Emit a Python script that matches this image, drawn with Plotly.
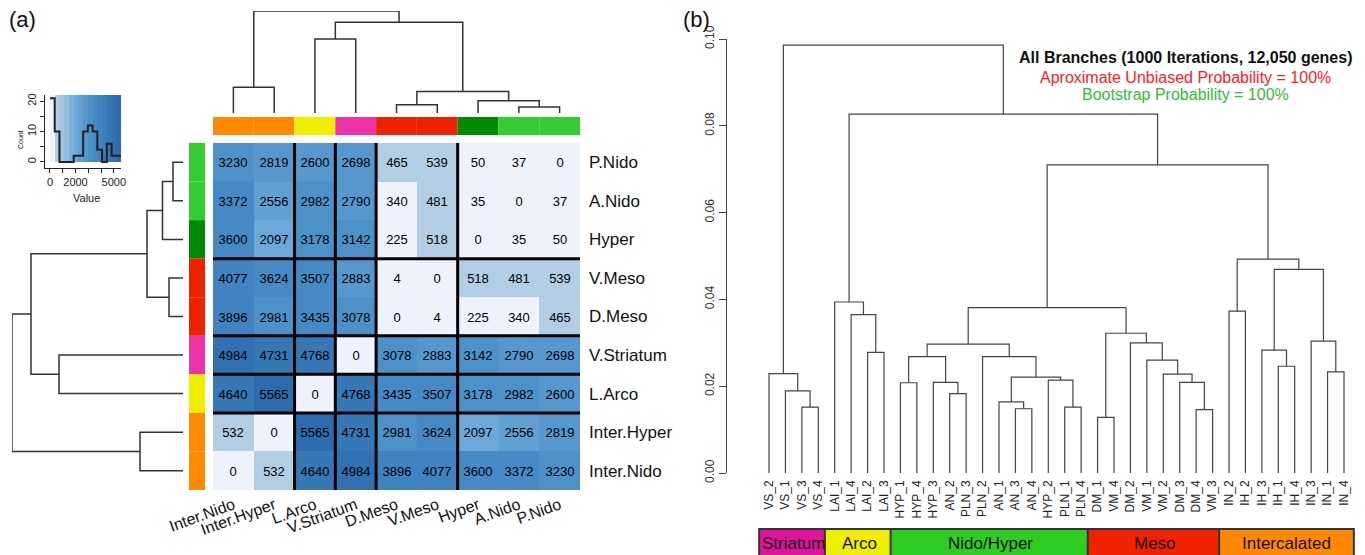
import numpy as np
import plotly.graph_objects as go

W, H = 1365, 555
OFF = 8  # page body margin
def px(x): return (x - OFF) / W
def py(y): return 1 - (y - OFF) / H

# ---------------- Panel (a) data ----------------
col_labels = ["Inter.Nido", "Inter.Hyper", "L.Arco", "V.Striatum", "D.Meso", "V.Meso", "Hyper", "A.Nido", "P.Nido"]
row_labels = ["P.Nido", "A.Nido", "Hyper", "V.Meso", "D.Meso", "V.Striatum", "L.Arco", "Inter.Hyper", "Inter.Nido"]

row_P_Nido      = [3230, 2819, 2600, 2698, 465, 539, 50, 37, 0]
row_A_Nido      = [3372, 2556, 2982, 2790, 340, 481, 35, 0, 37]
row_Hyper       = [3600, 2097, 3178, 3142, 225, 518, 0, 35, 50]
row_V_Meso      = [4077, 3624, 3507, 2883, 4, 0, 518, 481, 539]
row_D_Meso      = [3896, 2981, 3435, 3078, 0, 4, 225, 340, 465]
row_V_Striatum  = [4984, 4731, 4768, 0, 3078, 2883, 3142, 2790, 2698]
row_L_Arco      = [4640, 5565, 0, 4768, 3435, 3507, 3178, 2982, 2600]
row_Inter_Hyper = [532, 0, 5565, 4731, 2981, 3624, 2097, 2556, 2819]
row_Inter_Nido  = [0, 532, 4640, 4984, 3896, 4077, 3600, 3372, 3230]

region_of = {"Inter.Nido": "Inter", "Inter.Hyper": "Inter", "L.Arco": "Arco", "V.Striatum": "Striatum",
             "D.Meso": "Meso", "V.Meso": "Meso", "Hyper": "Nido", "A.Nido": "Nido", "P.Nido": "Nido"}

# hierarchical tree of the 9 regions (merge order, children, heights in arbitrary units)
tree_a_left   = ["A.Nido", "D.Meso", "Hyper", "t1", "Inter.Nido", "L.Arco", "t5", "t4"]
tree_a_right  = ["P.Nido", "V.Meso", "t0", "t2", "Inter.Hyper", "V.Striatum", "t3", "t6"]
tree_a_height = [10, 14, 20.5, 36, 43, 124, 152, 171]

# ---------------- Panel (b) data ----------------
b_leaves = ["VS_2", "VS_1", "VS_3", "VS_4", "LAI_1", "LAI_4", "LAI_2", "LAI_3",
            "HYP_1", "HYP_4", "HYP_3", "AN_2", "PLN_3", "PLN_2", "AN_1", "AN_3", "AN_4", "HYP_2", "PLN_1", "PLN_4",
            "DM_1", "VM_4", "DM_2", "VM_1", "VM_2", "DM_3", "DM_4", "VM_3",
            "IN_2", "IH_2", "IH_3", "IH_1", "IH_4", "IN_3", "IN_1", "IN_4"]
b_left = ["VS_3", "VS_1", "VS_2", "LAI_2", "LAI_4", "LAI_1", "HYP_1", "AN_2", "HYP_3", "m6",
          "AN_3", "AN_1", "PLN_1", "HYP_2", "m11", "PLN_2", "m9",
          "DM_1", "DM_4", "DM_3", "VM_2", "VM_1", "DM_2", "m17", "m16",
          "IN_2", "IH_1", "IH_3", "IN_1", "IN_3", "m27", "m25", "m24", "m5", "m2"]
b_right = ["VS_4", "m0", "m1", "LAI_3", "m3", "m4", "HYP_4", "PLN_3", "m7", "m8",
           "AN_4", "m10", "PLN_4", "m12", "m13", "m14", "m15",
           "VM_4", "VM_3", "m18", "m19", "m20", "m21", "m22", "m23",
           "IH_2", "IH_4", "m26", "IN_4", "m28", "m29", "m30", "m31", "m32", "m33"]
b_height = [0.0152, 0.0189, 0.0229, 0.0278, 0.0365, 0.0394, 0.0208, 0.0183, 0.0209, 0.0268,
            0.0148, 0.0164, 0.0152, 0.0214, 0.0221, 0.0268, 0.0297,
            0.0128, 0.0146, 0.0209, 0.0228, 0.0260, 0.0300, 0.0322, 0.0381,
            0.0373, 0.0246, 0.0283, 0.0233, 0.0304, 0.0469, 0.0493, 0.0710, 0.0827, 0.0986]
b_groups = ["Striatum", "Arco", "Nido/Hyper", "Meso", "Intercalated"]
b_group_sizes = [4, 4, 12, 8, 8]
b_yticks = [0.00, 0.02, 0.04, 0.06, 0.08, 0.10]

# ---------------- styles ----------------
FONT = "Liberation Sans, Arial, sans-serif"
NARROW = "Liberation Sans Narrow, Arial Narrow, Liberation Sans, sans-serif"
region_color = {"Inter": "#ff8a00", "Arco": "#eeee00", "Striatum": "#ee33a8", "Meso": "#ee2200",
                "Nido": "#33cc33"}
hyper_color = "#008a00"
def side_color(name):
    return hyper_color if name == "Hyper" else region_color[region_of[name]]
group_color = {"Striatum": "#e0139c", "Arco": "#f0ee00", "Nido/Hyper": "#2fcc22", "Meso": "#f02200",
               "Intercalated": "#ff8800"}
bin_colors = ["#eef3fb", "#b2cee4", "#a2c5e3", "#8fbbe0", "#7cb1dc", "#6ba8d8", "#60a0d3", "#5698ce",
              "#4d91c9", "#468ac5", "#4083c0", "#3b7dbb", "#3677b6", "#3171b2", "#2c6cae"]
nb = len(bin_colors)
cs = []
for i, c in enumerate(bin_colors):
    cs.append([i / nb, c]); cs.append([(i + 1) / nb, c])

def dendro(leaf_pos, lefts, rights, heights, prefix):
    pos = dict(leaf_pos); hgt = {k: 0.0 for k in leaf_pos}
    xs, ys = [], []
    for i, (l, r, h) in enumerate(zip(lefts, rights, heights)):
        xs += [pos[l], pos[l], pos[r], pos[r], None]
        ys += [hgt[l], h, h, hgt[r], None]
        pos[f"{prefix}{i}"] = (pos[l] + pos[r]) / 2
        hgt[f"{prefix}{i}"] = h
    return xs, ys

fig = go.Figure()

# ---------------- heatmap ----------------
mat = np.array([row_P_Nido, row_A_Nido, row_Hyper, row_V_Meso, row_D_Meso,
                row_V_Striatum, row_L_Arco, row_Inter_Hyper, row_Inter_Nido])
edges = np.linspace(0, mat.max(), nb + 1)
bins = np.digitize(mat, edges[1:-1])
fig.add_trace(go.Heatmap(z=bins, x=list(range(9)), y=list(range(9)), text=mat, texttemplate="%{text}",
                         textfont=dict(size=13, color="black", family=FONT), colorscale=cs,
                         zmin=-0.5, zmax=nb - 0.5, showscale=False, hoverinfo="skip",
                         xaxis="x", yaxis="y"))

# top dendrogram
xs, ys = dendro({n: i for i, n in enumerate(col_labels)}, tree_a_left, tree_a_right, tree_a_height, "t")
fig.add_trace(go.Scatter(x=xs, y=ys, mode="lines", line=dict(color="#333", width=1.5),
                         xaxis="x2", yaxis="y2", hoverinfo="skip", showlegend=False))
# left dendrogram
ys2, xs2 = dendro({n: i for i, n in enumerate(row_labels)}, tree_a_left, tree_a_right, tree_a_height, "t")
fig.add_trace(go.Scatter(x=xs2, y=ys2, mode="lines", line=dict(color="#333", width=1.5),
                         xaxis="x3", yaxis="y3", hoverinfo="skip", showlegend=False))

# color key histogram
counts, _ = np.histogram(mat.ravel(), bins=edges)
fig.add_trace(go.Heatmap(z=[list(range(nb))], x=edges, y=[0, counts.max() * 1.05], colorscale=cs,
                         zmin=-0.5, zmax=nb - 0.5, showscale=False, hoverinfo="skip",
                         xaxis="x4", yaxis="y4"))
fig.add_trace(go.Scatter(x=edges, y=list(counts) + [counts[-1]], mode="lines", line_shape="hv",
                         line=dict(color="#222", width=2), xaxis="x4", yaxis="y4",
                         hoverinfo="skip", showlegend=False))

# ---------------- panel (b) dendrogram ----------------
bx, by = dendro({n: i + 1 for i, n in enumerate(b_leaves)}, b_left, b_right, b_height, "m")
fig.add_trace(go.Scatter(x=bx, y=by, mode="lines", line=dict(color="#444", width=1.2),
                         xaxis="x5", yaxis="y5", hoverinfo="skip", showlegend=False))

shapes = []
# side color bars
for i, n in enumerate(col_labels):
    shapes.append(dict(type="rect", xref="x", yref="paper", x0=i - 0.5, x1=i + 0.5, y0=py(135), y1=py(117),
                       fillcolor=side_color(n), line=dict(width=0), layer="above"))
for i, n in enumerate(row_labels):
    shapes.append(dict(type="rect", xref="paper", yref="y", x0=px(189), x1=px(205), y0=i - 0.5, y1=i + 0.5,
                       fillcolor=side_color(n), line=dict(width=0), layer="above"))
# separators
for i in range(8):
    if region_of[col_labels[i]] != region_of[col_labels[i + 1]]:
        shapes.append(dict(type="line", xref="x", yref="y", x0=i + 0.5, x1=i + 0.5, y0=-0.5, y1=8.5,
                           line=dict(color="black", width=3)))
    if region_of[row_labels[i]] != region_of[row_labels[i + 1]]:
        shapes.append(dict(type="line", xref="x", yref="y", x0=-0.5, x1=8.5, y0=i + 0.5, y1=i + 0.5,
                           line=dict(color="black", width=3)))

annotations = []
# group boxes panel b
start = 1
for g, s in zip(b_groups, b_group_sizes):
    x0, x1 = start - 0.6, start + s - 1 + 0.6
    shapes.append(dict(type="rect", xref="x5", yref="paper", x0=x0, x1=x1, y0=py(556), y1=py(529),
                       fillcolor=group_color[g], line=dict(color="#333", width=2)))
    annotations.append(dict(x=(x0 + x1) / 2, y=py(543), xref="x5", yref="paper", text=g, showarrow=False,
                            xanchor="center", yanchor="middle",
                            font=dict(size=17, color="#111", family=NARROW)))
    start += s

def note(x, y, text, size, color, family=FONT, angle=0):
    return dict(x=px(x), y=py(y), xref="paper", yref="paper", text=text, showarrow=False,
                xanchor="center", yanchor="middle", textangle=angle,
                font=dict(size=size, color=color, family=family))

annotations += [
    note(22, 19, "(a)", 22, "#111"),
    note(696, 19, "(b)", 22, "#111"),
    note(1185, 58, "<b>All Branches (1000 Iterations, 12,050 genes)</b>", 16, "#111", NARROW),
    note(1185, 77, "Aproximate Unbiased Probability = 100%", 16, "#ff2020", NARROW),
    note(1185, 95, "Bootstrap Probability = 100%", 16, "#33bb33", NARROW),
    note(86, 198, "Value", 11, "#222"),
    note(20, 140, "Count", 7, "#222", FONT, -90),
]

# panel (b) axis range
leaf1_px, leafN_px, axis_px = 769, 1344, 727
k = (leafN_px - leaf1_px) / (len(b_leaves) - 1)
b_xmin = 1 - (leaf1_px - axis_px) / k
b_xmax = len(b_leaves) + (W + OFF - leafN_px) / k

hid = dict(visible=False, showgrid=False, zeroline=False)
fig.update_layout(
    width=W, height=H, margin=dict(l=0, r=0, t=0, b=0, pad=0, autoexpand=False), autosize=False,
    paper_bgcolor="white", plot_bgcolor="white", showlegend=False,
    font=dict(family=FONT, color="black"),
    xaxis=dict(domain=[px(213), px(580)], range=[-0.5, 8.5], tickvals=list(range(9)), ticktext=col_labels,
               tickangle=-20, tickfont=dict(size=16, color="#111"), showgrid=False, zeroline=False,
               ticks="", showline=False, anchor="y", automargin=False, ticklabelstandoff=2),
    yaxis=dict(domain=[py(490), py(143)], range=[8.5, -0.5], tickvals=list(range(9)), ticktext=row_labels,
               side="right", tickfont=dict(size=17, color="#111"), showgrid=False, zeroline=False,
               ticks="", ticklabelstandoff=8, anchor="x", automargin=False),
    xaxis2=dict(domain=[px(213), px(580)], range=[-0.5, 8.5], anchor="y2", **hid),
    yaxis2=dict(domain=[py(113), py(11)], range=[0, 171], anchor="x2", **hid),
    xaxis3=dict(domain=[px(12), px(183)], range=[171, 0], anchor="y3", **hid),
    yaxis3=dict(domain=[py(490), py(143)], range=[8.5, -0.5], anchor="x3", **hid),
    xaxis4=dict(domain=[px(45), px(121)], range=[-390, 5565], anchor="y4", tickvals=[0, 1000, 2000, 3000, 4000, 5000],
                ticktext=["0", "", "2000", "", "", "5000"], ticks="outside", ticklen=4, showline=True,
                linecolor="#222", tickcolor="#222", tickfont=dict(size=11, color="#222"), showgrid=False,
                zeroline=False, automargin=False),
    yaxis4=dict(domain=[py(168), py(95)], range=[-2, 22.05], anchor="x4", tickvals=[0, 5, 10, 15, 20],
                ticktext=["0", "", "10", "", "20"], ticks="outside", ticklen=4, showline=True, tickangle=-90,
                linecolor="#222", tickcolor="#222", tickfont=dict(size=11, color="#222"), showgrid=False,
                zeroline=False, automargin=False),
    xaxis5=dict(domain=[px(axis_px), 1], range=[b_xmin, b_xmax], anchor="y5",
                tickvals=list(range(1, len(b_leaves) + 1)), ticktext=b_leaves, tickangle=-90,
                tickfont=dict(size=12, color="#222"), ticks="", showline=False, showgrid=False, zeroline=False,
                ticklabelstandoff=4, automargin=False),
    yaxis5=dict(domain=[py(473), py(39)], range=[0, 0.1], anchor="x5", tickvals=b_yticks,
                ticktext=[f"{v:.2f}" for v in b_yticks], tickangle=-90, ticks="outside", ticklen=7,
                showline=True, linecolor="#444", tickcolor="#444", tickfont=dict(size=12, color="#333"),
                showgrid=False, zeroline=False, automargin=False),
    shapes=shapes, annotations=annotations,
)

fig.write_html("out.html")
